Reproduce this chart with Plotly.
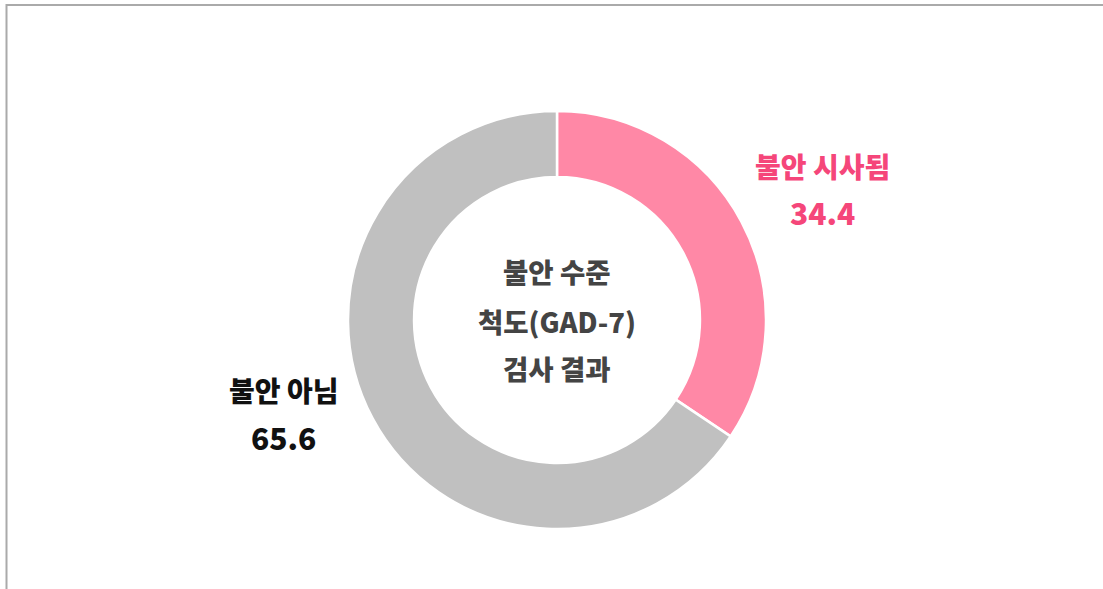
import plotly.graph_objects as go

categories = ["불안 시사됨", "불안 아님"]
values = [34.4, 65.6]
colors = ["#FF88A6", "#C0C0C0"]
label_colors = ["#F5467A", "#111111"]
center_lines = ["불안 수준", "척도(GAD-7)", "검사 결과"]

W, H = 1103, 589
FONT = "Noto Sans CJK KR"

def px(x):
    return x / W

def py(y):
    return 1 - y / H

cx, cy, r = 557, 320, 209

fig = go.Figure(go.Pie(
    labels=categories,
    values=values,
    marker=dict(colors=colors, line=dict(color="white", width=2.5)),
    hole=0.684,
    sort=False,
    direction="clockwise",
    rotation=0,
    textinfo="none",
    hoverinfo="label+value",
    showlegend=False,
    domain=dict(x=[px(cx - r), px(cx + r)], y=[py(cy + r), py(cy - r)]),
))

annotations = []
label_pos = [(822, 166, 212), (283, 390, 437)]
for cat, val, col, (x, y1, y2) in zip(categories, values, label_colors, label_pos):
    annotations.append(dict(x=px(x), y=py(y1), text=cat, showarrow=False,
                            xref="paper", yref="paper", xanchor="center", yanchor="middle",
                            font=dict(family=FONT, size=28, color=col, weight=900)))
    annotations.append(dict(x=px(x), y=py(y2), text=str(val), showarrow=False,
                            xref="paper", yref="paper", xanchor="center", yanchor="middle",
                            font=dict(family=FONT, size=30, color=col, weight=900)))

for line, y in zip(center_lines, [271, 321, 368]):
    annotations.append(dict(x=px(cx), y=py(y), text=line, showarrow=False,
                            xref="paper", yref="paper", xanchor="center", yanchor="middle",
                            font=dict(family=FONT, size=27.5, color="#444444", weight=900)))

shapes = [
    dict(type="line", xref="paper", yref="paper", x0=px(6), x1=1.01, y0=py(5), y1=py(5),
         line=dict(color="#AAAAAA", width=2)),
    dict(type="line", xref="paper", yref="paper", x0=px(6.5), x1=px(6.5), y0=py(4), y1=-0.01,
         line=dict(color="#AAAAAA", width=2)),
]

fig.update_layout(
    width=W, height=H,
    margin=dict(l=0, r=0, t=0, b=0),
    paper_bgcolor="white",
    plot_bgcolor="white",
    annotations=annotations,
    shapes=shapes,
)

fig.write_html("out.html", config={"displayModeBar": False},
               post_script="document.body.style.margin='0';document.body.style.overflow='hidden';")
